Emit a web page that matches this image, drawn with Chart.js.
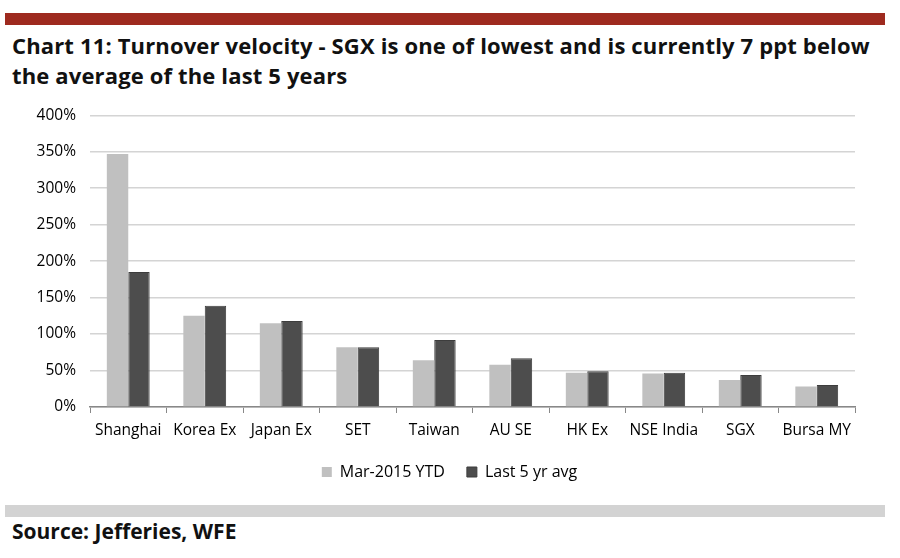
<!DOCTYPE html>
<html>
<head>
<meta charset="utf-8">
<script src="https://cdn.jsdelivr.net/npm/chart.js@4"></script>
<style>
  body { margin: 0; width: 900px; height: 558px; background: #fff; position: relative; overflow: hidden; font-family: "Open Sans", sans-serif; }
  #topbar { position: absolute; left: 5px; top: 13px; width: 880px; height: 12px; background: #9e2a1f; }
  #title { position: absolute; left: 12px; top: 30px; font-weight: bold; font-size: 22px; line-height: 30px; color: #111; letter-spacing: 0.15px; }
  #wrap { position: absolute; left: 0; top: 92px; width: 870px; height: 398px; }
  #botbar { position: absolute; left: 5px; top: 505px; width: 880px; height: 12px; background: #d3d3d3; }
  #source { position: absolute; left: 12px; top: 517px; font-weight: bold; font-size: 21px; color: #111; }
</style>
</head>
<body>
<div id="topbar"></div>
<div id="title">Chart 11: Turnover velocity - SGX is one of lowest and is currently 7 ppt below<br>the average of the last 5 years</div>
<div id="wrap"><canvas id="turnoverChart"></canvas></div>
<div id="botbar"></div>
<div id="source">Source: Jefferies, WFE</div>
<script>
// Turnover velocity by exchange (%)
const exchanges = ['Shanghai', 'Korea Ex', 'Japan Ex', 'SET', 'Taiwan', 'AU SE', 'HK Ex', 'NSE India', 'SGX', 'Bursa MY'];
const ytd2015 = [347, 125, 115, 82, 64, 58, 47, 46, 37, 28];
const avg5yr = [185, 139, 118, 82, 92, 67, 49, 47, 44, 30];
const yTicks = [0, 50, 100, 150, 200, 250, 300, 350, 400];

// nudge the legend right so it centres on the page rather than the canvas
const legendShift = {
    id: 'legendShift',
    afterLayout(chart) {
        chart.legend.left += 22;
        chart.legend.right += 22;
    }
};

const ctx = document.getElementById('turnoverChart').getContext('2d');
const turnoverChart = new Chart(ctx, {
    type: 'bar',
    data: {
        labels: exchanges,
        datasets: [{
            label: 'Mar-2015 YTD',
            data: ytd2015,
            backgroundColor: '#c0c0c0',
            categoryPercentage: 0.56,
            barPercentage: 1
        }, {
            label: 'Last 5 yr avg',
            data: avg5yr,
            backgroundColor: '#4d4d4d',
            borderColor: '#3d3d3d',
            borderWidth: 1,
            categoryPercentage: 0.56,
            barPercentage: 1
        }]
    },
    options: {
        responsive: true,
        maintainAspectRatio: false,
        animation: false,
        layout: { padding: { top: 10, right: 15, left: 0, bottom: 0 } },
        scales: {
            x: {
                grid: { offset: true, drawOnChartArea: false, color: '#888', tickLength: 6 },
                border: { color: '#888', width: 1.5 },
                ticks: { color: '#000', font: { family: 'Open Sans', size: 15.5 }, padding: 8, maxRotation: 0 },
                afterFit: function(scale) { scale.height = 35; }
            },
            y: {
                min: 0,
                max: 400,
                afterBuildTicks: function(scale) { scale.ticks = yTicks.map(v => ({ value: v })); },
                grid: { color: '#d4d4d4', lineWidth: 1.5, drawTicks: false },
                border: { display: false },
                ticks: {
                    color: '#000',
                    font: { family: 'Open Sans', size: 15.5 },
                    padding: 14,
                    callback: function(value) { return value + '%'; }
                },
                afterFit: function(scale) { scale.width = 90; }
            }
        },
        plugins: {
            legend: {
                display: true,
                position: 'bottom',
                labels: {
                    color: '#000',
                    boxWidth: 10,
                    boxHeight: 10,
                    padding: 22,
                    font: { family: 'Open Sans', size: 16 }
                }
            },
            tooltip: { enabled: false }
        }
    },
    plugins: [legendShift]
});
</script>
</body>
</html>
